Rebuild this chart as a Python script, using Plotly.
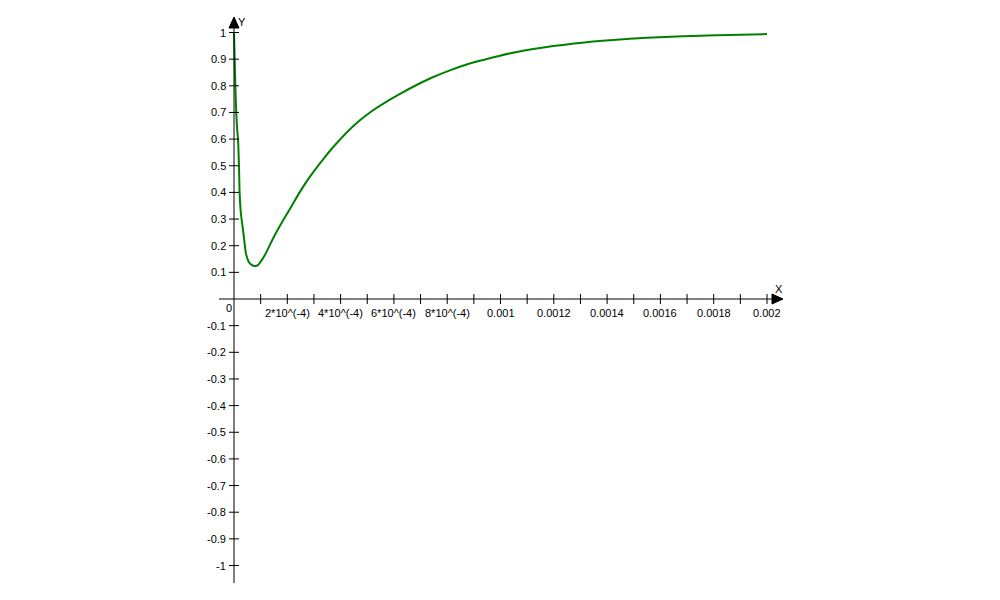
import plotly.graph_objects as go

# ---- data ----
x_vals = [0, 3.75e-6, 7.5e-6, 1.13e-5, 1.5e-5, 1.88e-5, 2.1e-5, 2.6e-5, 3.5e-5, 4.5e-5,
          5.5e-5, 6.6e-5, 7.9e-5, 9.0e-5, 1.0e-4, 1.16e-4, 1.47e-4, 1.85e-4, 2.17e-4,
          2.48e-4, 2.85e-4, 3.35e-4, 3.79e-4, 4.54e-4, 5.10e-4, 5.85e-4, 6.23e-4,
          6.85e-4, 7.48e-4, 8.10e-4, 8.73e-4, 9.35e-4, 9.98e-4, 1.061e-3, 1.123e-3,
          1.198e-3, 1.286e-3, 1.422e-3, 1.549e-3, 1.685e-3, 1.811e-3, 2.0e-3]
y_vals = [1.0, 0.85, 0.72, 0.645, 0.60, 0.495, 0.40, 0.32, 0.25, 0.17,
          0.14, 0.128, 0.124, 0.127, 0.14, 0.165, 0.228, 0.296, 0.35,
          0.403, 0.459, 0.525, 0.578, 0.655, 0.70, 0.748, 0.770,
          0.803, 0.833, 0.858, 0.88, 0.897, 0.913, 0.927, 0.938,
          0.949, 0.96, 0.972, 0.980, 0.986, 0.99, 0.994]

x_tick_vals = [i * 1e-4 for i in range(1, 21)]
x_label_vals = [2e-4, 4e-4, 6e-4, 8e-4, 1e-3, 1.2e-3, 1.4e-3, 1.6e-3, 1.8e-3, 2e-3]
x_label_text = ["2*10^(-4)", "4*10^(-4)", "6*10^(-4)", "8*10^(-4)", "0.001",
                "0.0012", "0.0014", "0.0016", "0.0018", "0.002"]
y_tick_vals = [1, 0.9, 0.8, 0.7, 0.6, 0.5, 0.4, 0.3, 0.2, 0.1,
               -0.1, -0.2, -0.3, -0.4, -0.5, -0.6, -0.7, -0.8, -0.9, -1]
y_label_text = ["1", "0.9", "0.8", "0.7", "0.6", "0.5", "0.4", "0.3", "0.2", "0.1",
                "-0.1", "-0.2", "-0.3", "-0.4", "-0.5", "-0.6", "-0.7", "-0.8", "-0.9", "-1"]

# ---- pixel scale helpers (layout only) ----
W, H = 1000, 600
PAGE_OFF = 8               # browser body margin
ox, oy = 234 - PAGE_OFF, 299 - PAGE_OFF   # origin within the figure
sx = 533 / 0.002           # px per x unit
sy = 266.5                 # px per y unit
xr = [-ox / sx, (W - ox) / sx]
yr = [-(H - oy) / sy, oy / sy]
dx = 1 / sx
dy = 1 / sy

fig = go.Figure()
fig.add_trace(go.Scatter(x=x_vals, y=y_vals, mode="lines",
                         line=dict(color="#008000", width=2, shape="spline", smoothing=0.6),
                         hoverinfo="skip"))

shapes = []
axis_line = dict(color="black", width=1)
# x axis
shapes.append(dict(type="line", xref="x", yref="y", x0=-15 * dx, x1=538 * dx,
                   y0=0, y1=0, line=axis_line))
# y axis
shapes.append(dict(type="line", xref="x", yref="y", x0=0, x1=0,
                   y0=-284 * dy, y1=271 * dy, line=axis_line))
# arrows
ax_tip, ax_base = 549 * dx, 538 * dx
shapes.append(dict(type="path", xref="x", yref="y",
                   path=f"M {ax_base} {-5*dy} L {ax_tip} 0 L {ax_base} {5*dy} Z",
                   fillcolor="black", line=dict(color="black", width=1)))
ay_tip, ay_base = 282 * dy, 271 * dy
shapes.append(dict(type="path", xref="x", yref="y",
                   path=f"M {-5*dx} {ay_base} L 0 {ay_tip} L {5*dx} {ay_base} Z",
                   fillcolor="black", line=dict(color="black", width=1)))
# ticks
for xv in x_tick_vals:
    shapes.append(dict(type="line", xref="x", yref="y", x0=xv, x1=xv,
                       y0=-5 * dy, y1=5 * dy, line=axis_line))
for yv in y_tick_vals:
    shapes.append(dict(type="line", xref="x", yref="y", x0=-5 * dx, x1=5 * dx,
                       y0=yv, y1=yv, line=axis_line))

font = dict(family="Liberation Sans, Arial, sans-serif", size=11, color="black")
annotations = []
for xv, txt in zip(x_label_vals, x_label_text):
    annotations.append(dict(x=xv, y=-6 * dy, xref="x", yref="y", text=txt,
                            showarrow=False, xanchor="center", yanchor="top", font=font))
for yv, txt in zip(y_tick_vals, y_label_text):
    annotations.append(dict(x=-6 * dx, y=yv, xref="x", yref="y", text=txt,
                            showarrow=False, xanchor="right", yanchor="middle", font=font))
annotations.append(dict(x=0 * dx, y=-1 * dy, xref="x", yref="y", text="0",
                        showarrow=False, xanchor="right", yanchor="top", font=font))
annotations.append(dict(x=2 * dx, y=277 * dy, xref="x", yref="y", text="Y",
                        showarrow=False, xanchor="left", yanchor="middle", font=font))
annotations.append(dict(x=545 * dx, y=10 * dy, xref="x", yref="y", text="X",
                        showarrow=False, xanchor="center", yanchor="middle", font=font))

fig.update_layout(
    width=W, height=H,
    margin=dict(l=0, r=0, t=0, b=0),
    paper_bgcolor="white", plot_bgcolor="white",
    showlegend=False,
    xaxis=dict(range=xr, visible=False, fixedrange=True),
    yaxis=dict(range=yr, visible=False, fixedrange=True),
    shapes=shapes, annotations=annotations,
)

fig.write_html("out.html")
